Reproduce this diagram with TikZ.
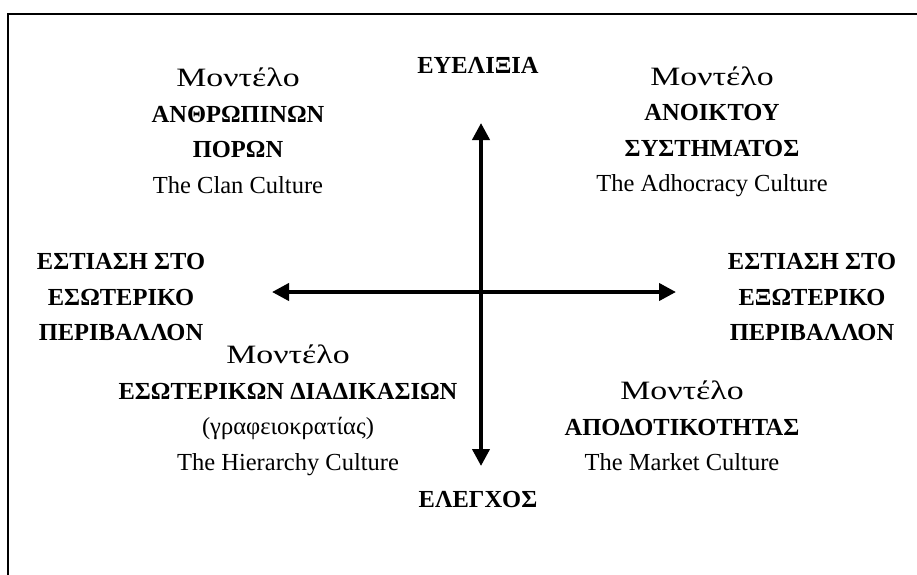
\documentclass[tikz,border=0pt]{standalone}
\usepackage{fontspec}
\usepackage{graphicx}
\setmainfont{Liberation Serif}
\usetikzlibrary{arrows.meta}
% the word "model", set wide as in the printed chart
\newcommand{\modelword}{\scalebox{1.38}[1.08]{Μοντέλο}}
\tikzset{
  lbl/.style={font=\fontsize{24.5}{35.5}\selectfont, align=center, inner sep=0pt},
  axisline/.style={line width=4pt, {Triangle[length=17pt,width=17pt]}-{Triangle[length=17pt,width=17pt]}},
  framing/.style={line width=2pt}
}
\begin{document}
\begin{tikzpicture}[x=1pt,y=-1pt]
  \useasboundingbox (0,0) rectangle (917,574);
  % open frame: top and left edges
  \draw[framing] (917,14) -- (8,14) -- (8,575);
  % axis end points
  \coordinate (N) at (481,123);
  \coordinate (S) at (481,466);
  \coordinate (W) at (272,292);
  \coordinate (E) at (676,292);
  \draw[axisline] (S) -- (N);
  \draw[axisline] (W) -- (E);
  % axis labels
  \node[lbl, font=\fontsize{24.5}{35.5}\selectfont\bfseries] (flex) at (478,65) {ΕΥΕΛΙΞΙΑ};
  \node[lbl, font=\fontsize{24.5}{35.5}\selectfont\bfseries] (ctrl) at (478,499) {ΕΛΕΓΧΟΣ};
  \node[lbl] (inner) at (121,297) {\textbf{ΕΣΤΙΑΣΗ ΣΤΟ}\\\textbf{ΕΣΩΤΕΡΙΚΟ}\\\textbf{ΠΕΡΙΒΑΛΛΟΝ}};
  \node[lbl] (outer) at (812,297) {\textbf{ΕΣΤΙΑΣΗ ΣΤΟ}\\\textbf{ΕΞΩΤΕΡΙΚΟ}\\\textbf{ΠΕΡΙΒΑΛΛΟΝ}};
  % quadrant labels
  \node[lbl] (clan) at (238,131) {\modelword\\\textbf{ΑΝΘΡΩΠΙΝΩΝ}\\\textbf{ΠΟΡΩΝ}\\The Clan Culture};
  \node[lbl] (adhoc) at (712,132) {\modelword\\\textbf{ΑΝΟΙΚΤΟΥ}\\\textbf{ΣΥΣΤΗΜΑΤΟΣ}\\The Adhocracy Culture};
  \node[lbl] (hier) at (288,410.5) {\modelword\\\textbf{ΕΣΩΤΕΡΙΚΩΝ ΔΙΑΔΙΚΑΣΙΩΝ}\\(γραφειοκρατίας)\\The Hierarchy Culture};
  \node[lbl] (market) at (682,426) {\modelword\\\textbf{ΑΠΟΔΟΤΙΚΟΤΗΤΑΣ}\\The Market Culture};
\end{tikzpicture}
\end{document}
